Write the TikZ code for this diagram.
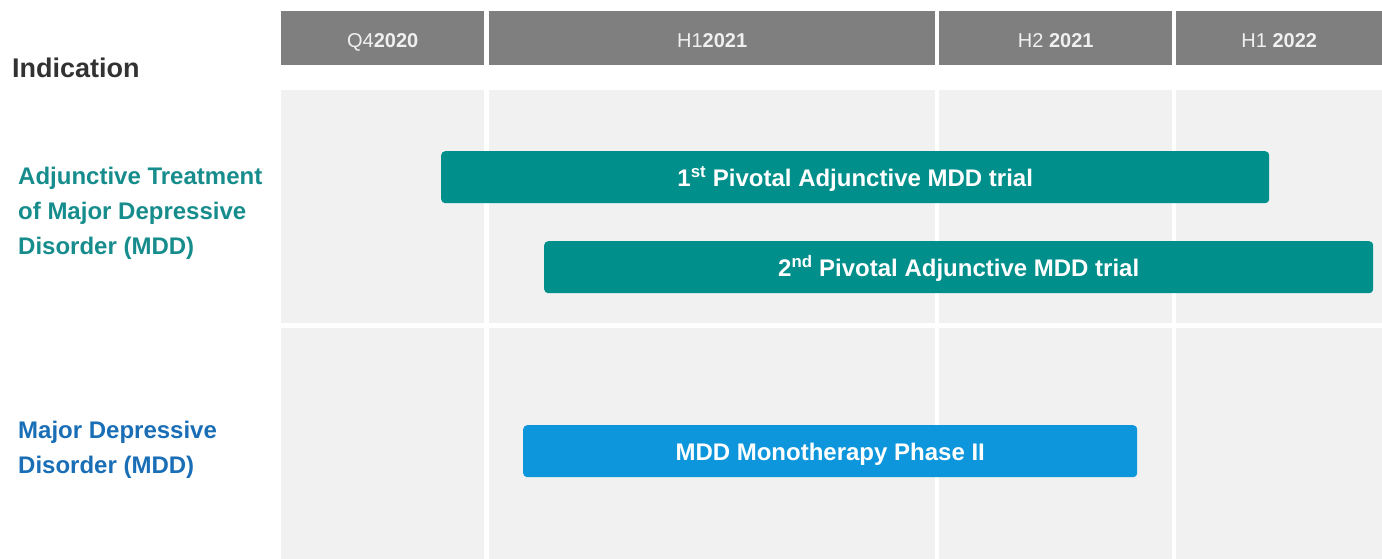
\documentclass[tikz,border=0pt]{standalone}
\usepackage{fontspec}
\setmainfont{Liberation Sans}
\usetikzlibrary{positioning}

\definecolor{hdrgray}{RGB}{127,127,127}
\definecolor{cellgray}{RGB}{241,241,241}
\definecolor{trialteal}{RGB}{0,143,138}
\definecolor{monoblue}{RGB}{14,150,220}
\definecolor{labelteal}{RGB}{22,140,140}
\definecolor{labelblue}{RGB}{25,110,182}
\definecolor{darktext}{RGB}{50,50,50}

\begin{document}
\begin{tikzpicture}[x=1pt, y=-1pt,
  hdr/.style={fill=hdrgray, text=white!94!black, anchor=north west, inner sep=0pt,
    minimum height=54pt, text height=18pt, text depth=0pt,
    font=\fontsize{20}{24}\selectfont},
  bar/.style={rounded corners=4pt, text=white, anchor=north west, inner sep=0pt,
    minimum height=52pt, text height=19pt, text depth=0pt,
    font=\bfseries\fontsize{24}{28}\selectfont},
  lbl/.style={anchor=west, align=left, inner sep=0pt,
    font=\bfseries\fontsize{24}{35}\selectfont}]
  \useasboundingbox (0,0) rectangle (1382,559);

  % Background cells (two rows, four periods)
  \foreach \xa/\xb in {281/484, 489/935, 939/1172, 1176/1382}
    \foreach \ya/\yb in {90/323, 328/559}
      \fill[cellgray] (\xa,\ya) rectangle (\xb,\yb);

  % Period headers
  \node[hdr, minimum width=203pt] (q4) at (281,11) {Q4\textbf{2020}};
  \node[hdr, minimum width=446pt] (h1a) at (489,11) {H1\textbf{2021}};
  \node[hdr, minimum width=233pt] (h2a) at (939,11) {H2 \textbf{2021}};
  \node[hdr, minimum width=206pt] (h1b) at (1176,11) {H1 \textbf{2022}};

  % Indication labels
  \node[lbl, text=darktext, font=\bfseries\fontsize{27}{30}\selectfont] (ind) at (12,68) {Indication};
  \node[lbl, text=labelteal] (adj) at (18,213) {Adjunctive Treatment\\of Major Depressive\\Disorder (MDD)};
  \node[lbl, text=labelblue] (mdd) at (18,450) {Major Depressive\\Disorder (MDD)};

  % Trial bars
  \node[bar, fill=trialteal, minimum width=828pt] (piv1) at (441,151) {1\textsuperscript{st} Pivotal Adjunctive MDD trial};
  \node[bar, fill=trialteal, minimum width=829pt] (piv2) at (544,241) {2\textsuperscript{nd} Pivotal Adjunctive MDD trial};
  \node[bar, fill=monoblue, minimum width=614pt] (mono) at (523,425) {MDD Monotherapy Phase II};
\end{tikzpicture}
\end{document}
